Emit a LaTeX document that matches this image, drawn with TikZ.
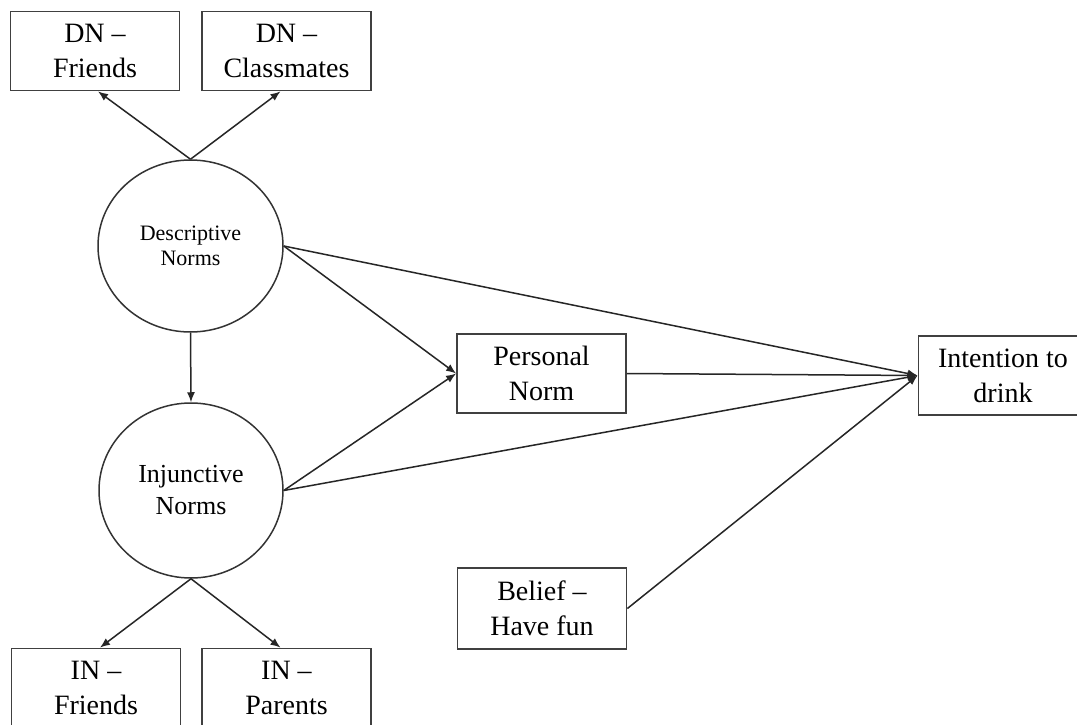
\documentclass[tikz,border=0pt]{standalone}
\usepackage{fontspec}
\setmainfont{Liberation Serif}
\usetikzlibrary{arrows.meta,calc,shapes.geometric}
\begin{document}
\begin{tikzpicture}[x=1pt,y=-1pt,
  box/.style={draw=black!75, line width=1.8pt, fill=white, align=center,
    inner sep=0pt, minimum width=169pt, minimum height=79pt,
    font=\fontsize{28}{35}\selectfont},
  latent/.style={draw=black!80, line width=1.5pt, ellipse, align=center,
    inner sep=0pt},
  link/.style={draw=black!85, line width=1.5pt,
    -{Latex[length=10pt,width=8pt]}}
]
\path[use as bounding box, clip] (0,0) rectangle (1077,725);
\fill[white] (0,0) rectangle (1077,725);

% indicator boxes
\node[box] (dnf) at (95,51)    {DN –\\Friends};
\node[box] (dnc) at (286.5,51) {DN –\\Classmates};
\node[box] (inf) at (96,688)   {IN –\\Friends};
\node[box] (inp) at (286.5,688){IN –\\Parents};

% latent norm constructs
\node[latent, minimum width=185pt, minimum height=172pt,
      font=\fontsize{22}{25}\selectfont] (desc) at (190.5,246) {Descriptive\\Norms};
\node[latent, minimum width=184pt, minimum height=175pt,
      font=\fontsize{26}{32}\selectfont] (inj) at (191,490.5) {Injunctive\\Norms};

% outcome and predictor boxes
\node[box] (pn)  at (541.5,373.5) {Personal\\Norm};
\node[box] (int) at (1003,375.5)  {Intention to\\drink};
\node[box, minimum height=81pt] (bel) at (542,608.5) {Belief –\\Have fun};

% measurement paths
\draw[link] (desc.north) -- ($(dnf.south)+(3,0)$);
\draw[link] (desc.north) -- ($(dnc.south)+(-6,0)$);
\draw[link] (inj.south) -- ($(inf.north)+(4,0)$);
\draw[link] (inj.south) -- ($(inp.north)+(-6,0)$);

% structural paths
\draw[link] (desc.south) -- (inj.north);
\draw[link] (desc.east) -- (pn.west);
\draw[link] (inj.east) -- (pn.west);
\draw[link] (desc.east) -- (int.west);
\draw[link] (inj.east) -- (int.west);
\draw[link] (pn.east) -- (int.west);
\draw[link] (bel.east) -- (int.west);
\end{tikzpicture}
\end{document}
